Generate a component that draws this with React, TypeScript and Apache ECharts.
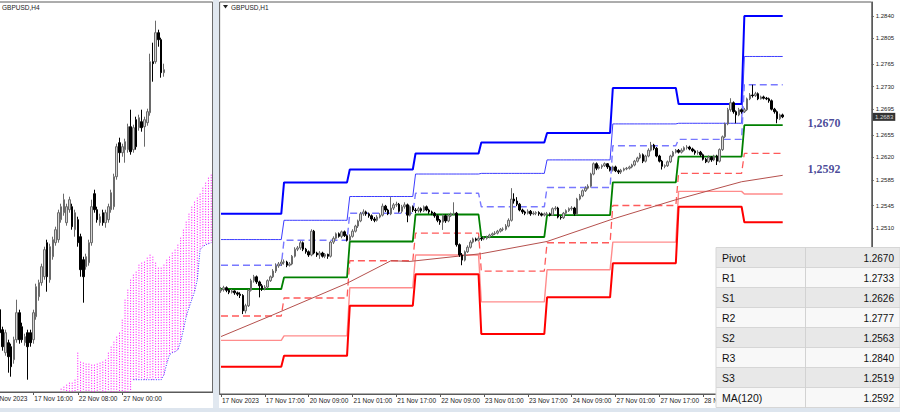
import React, { useEffect, useRef } from 'react';
import * as echarts from 'echarts';

const FONT = '"Liberation Sans", Arial, sans-serif';

// ================= LEFT PANEL: GBPUSD,H4 =================
const h4CategoryCount = 77;
const h4TickBars = [12, 28, 44];
const h4TickLabels = ['17 Nov 16:00', '22 Nov 08:00', '27 Nov 00:00'];
const h4CutLabel = '17 Nov 2023';
// [open, close, low, high] in pips above 1.2000
const h4Candles: number[][] = [
  [444, 421, 416, 454], [424, 407, 403, 427], [401, 421, 398, 424], [411, 397, 381, 414],
  [407, 387, 377, 410], [394, 414, 390, 417], [414, 441, 411, 454], [441, 414, 410, 444],
  [427, 414, 411, 431], [411, 417, 408, 420], [421, 407, 374, 424], [421, 411, 407, 424],
  [414, 441, 410, 444], [437, 467, 434, 470], [457, 471, 453, 474], [471, 487, 468, 490],
  [477, 504, 474, 507], [511, 477, 462, 514], [474, 507, 471, 510], [497, 514, 494, 517],
  [511, 524, 508, 527], [514, 541, 511, 544], [534, 547, 531, 550], [541, 554, 538, 560],
  [531, 547, 528, 550], [544, 554, 541, 557], [547, 527, 524, 550], [524, 541, 517, 544],
  [534, 511, 507, 537], [517, 484, 477, 520], [494, 477, 451, 497], [487, 497, 484, 500],
  [491, 511, 488, 514], [511, 547, 508, 554], [560, 544, 541, 564], [544, 534, 531, 547],
  [531, 537, 528, 540], [541, 531, 528, 544], [531, 541, 526, 544], [534, 547, 531, 550],
  [544, 561, 541, 564], [547, 577, 544, 580], [577, 607, 574, 610], [611, 601, 591, 616],
  [601, 607, 597, 610], [604, 612, 591, 615], [604, 627, 601, 630], [627, 602, 599, 644],
  [604, 626, 601, 629], [634, 607, 604, 637], [626, 636, 623, 639], [632, 626, 622, 644],
  [627, 634, 607, 637], [631, 642, 628, 645], [641, 692, 638, 700], [692, 690, 672, 711],
  [692, 721, 690, 733], [721, 714, 707, 724], [714, 681, 676, 716], [681, 684, 677, 690],
];
const kumoStartBar = 22;
const kumoUpper = [365, 367, 369, 371, 371, 374, 401, 392, 391, 390, 390, 389, 389, 390, 391, 392, 394, 401, 407, 412,
  417, 421, 434, 454, 464, 474, 479, 482, 489, 491, 492, 496, 499, 497, 491, 486, 486, 489, 494, 497,
  501, 504, 509, 516, 524, 532, 540, 547, 552, 556, 560, 566, 571, 576, 579];
const kumoLower = [362, 362, 362, 362, 362, 362, 362, 362, 362, 362, 362, 362, 362, 362, 362, 362, 362, 362, 362, 362,
  362, 362, 362, 362, 362, 362, 374, 374, 374, 374, 374, 374, 374, 374, 374, 374, 374, 379, 390, 399,
  401, 402, 404, 412, 424, 437, 446, 454, 462, 474, 504, 507, 509, 510, 511];
const kumoEdgeStartBar = 48;
const h4Min = 1.23617;
const h4Max = 1.27517;

// ================= RIGHT PANEL: GBPUSD,H1 =================
const h1CategoryCount = 238;
const h1DayStartBar = [0, 23, 47, 71, 95, 119, 143, 167, 191];
const h1TickBars = [0, 16, 32, 48, 64, 80, 96, 112, 128, 144, 160, 176];
const h1TickLabels = ['17 Nov 2023', '17 Nov 17:00', '20 Nov 09:00', '21 Nov 01:00', '21 Nov 17:00', '22 Nov 09:00',
  '23 Nov 01:00', '23 Nov 17:00', '24 Nov 09:00', '27 Nov 01:00', '27 Nov 17:00', '28 Nov 09:00'];
const priceTicks = [1.2510, 1.2545, 1.2585, 1.2620, 1.2655, 1.2695, 1.2730, 1.2765, 1.2805, 1.2840];
const lastPrice = 1.2683;
const h1Min = 1.225158;
const h1Max = 1.286179;

// daily pivot levels (one value per day)
const levelR3 = [1.2532, 1.2581, 1.2601, 1.2626, 1.2643, 1.2658, 1.2728, 1.2703, 1.2840];
const levelR2 = [1.2492, 1.2522, 1.2559, 1.2594, 1.2595, 1.2616, 1.2672, 1.2673, 1.2777];
const levelR1 = [1.2452, 1.2491, 1.2533, 1.2564, 1.2543, 1.2573, 1.2638, 1.2648, 1.2733];
const levelP = [1.2415, 1.2433, 1.2489, 1.2531, 1.2496, 1.2530, 1.2581, 1.2621, 1.2670];
const levelS1 = [1.2373, 1.2401, 1.2459, 1.2502, 1.2443, 1.2487, 1.2545, 1.2595, 1.2626];
const levelS2 = [1.2335, 1.2342, 1.2417, 1.2468, 1.2395, 1.2445, 1.2488, 1.2567, 1.2563];
const levelS3 = [1.2294, 1.2311, 1.2389, 1.2438, 1.2345, 1.2402, 1.2455, 1.2543, 1.2519];

// MA(120) read at bar positions
const ma120Points: number[][] = [[0, 1.2341], [18, 1.2373], [46, 1.2424], [62, 1.2459], [69, 1.2458], [95, 1.2470],
  [119, 1.2489], [143, 1.2524], [166, 1.2554], [190, 1.2582], [205, 1.2592]];

const noteBar = 214;
const noteValues = [1.2670, 1.2592];
const noteTexts = ['1,2670', '1,2592'];

// [open, close, low, high] in pips above 1.2000
const h1Candles: number[][] = [
  // 17 Nov
  [412, 414, 409, 418], [414, 417, 411, 420], [417, 413, 410, 419], [413, 410, 407, 415], [410, 412, 408, 415],
  [412, 409, 406, 413], [409, 407, 404, 411], [407, 405, 401, 410], [405, 381, 376, 407], [381, 389, 377, 392],
  [389, 413, 387, 415], [413, 428, 411, 431], [428, 434, 425, 437], [434, 426, 423, 436], [426, 420, 402, 428],
  [420, 415, 412, 423], [415, 418, 413, 421], [418, 428, 416, 430], [428, 434, 426, 436], [434, 443, 432, 446],
  [443, 451, 440, 455], [451, 454, 448, 457], [454, 457, 451, 461],
  // 20 Nov
  [457, 457, 453, 461], [457, 452, 449, 459], [452, 454, 450, 457], [454, 466, 452, 468], [466, 477, 464, 480],
  [477, 479, 474, 482], [479, 487, 476, 490], [487, 477, 474, 489], [477, 473, 470, 479], [473, 468, 465, 475],
  [468, 505, 466, 508], [505, 471, 469, 507], [471, 468, 465, 473], [468, 471, 462, 474], [471, 466, 464, 473],
  [466, 469, 463, 471], [469, 466, 462, 470], [466, 488, 464, 490], [488, 494, 485, 497], [494, 501, 492, 503],
  [501, 497, 495, 503], [497, 504, 494, 506], [504, 498, 496, 506], [498, 491, 489, 500],
  // 21 Nov
  [491, 497, 489, 500], [497, 505, 495, 508], [505, 513, 503, 515], [513, 521, 510, 523], [521, 532, 519, 535],
  [532, 535, 529, 539], [535, 532, 529, 537], [532, 529, 526, 534], [529, 524, 521, 531], [524, 522, 519, 527],
  [522, 527, 520, 530], [527, 530, 525, 533], [530, 544, 528, 548], [544, 538, 535, 546], [538, 532, 530, 540],
  [532, 541, 530, 558], [541, 546, 538, 549], [546, 547, 543, 551], [547, 536, 534, 549], [536, 543, 533, 546],
  [543, 546, 540, 550], [546, 530, 519, 548], [530, 543, 528, 545], [543, 538, 535, 545],
  // 22 Nov
  [538, 537, 533, 541], [537, 540, 534, 543], [540, 537, 534, 542], [537, 543, 535, 545], [543, 538, 536, 545],
  [538, 535, 532, 540], [535, 533, 530, 537], [533, 529, 526, 535], [529, 522, 519, 531], [522, 519, 515, 524],
  [519, 529, 507, 531], [529, 521, 518, 531], [521, 529, 519, 532], [529, 532, 527, 534], [532, 533, 530, 550],
  [533, 484, 481, 535], [484, 468, 465, 486], [468, 460, 452, 471], [460, 473, 458, 475], [473, 480, 471, 483],
  [480, 488, 478, 491], [488, 493, 486, 495], [493, 491, 489, 495], [491, 494, 489, 497],
  // 23 Nov
  [494, 493, 490, 496], [493, 494, 491, 497], [494, 496, 492, 498], [496, 499, 494, 501], [499, 501, 497, 503],
  [501, 502, 499, 505], [502, 505, 500, 507], [505, 508, 503, 510], [508, 508, 505, 511], [508, 513, 506, 516],
  [513, 522, 511, 525], [522, 555, 520, 572], [555, 552, 548, 564], [552, 547, 544, 558], [547, 538, 536, 549],
  [538, 535, 532, 540], [535, 533, 530, 537], [533, 536, 531, 539], [536, 532, 529, 538], [532, 533, 530, 536],
  [533, 534, 530, 536], [534, 532, 529, 536], [532, 530, 528, 534], [530, 532, 528, 534],
  // 24 Nov
  [532, 532, 529, 535], [532, 530, 528, 534], [530, 540, 529, 542], [540, 541, 537, 544], [541, 527, 525, 543],
  [527, 526, 523, 529], [526, 533, 524, 535], [533, 537, 531, 539], [537, 540, 535, 542], [540, 541, 537, 544],
  [541, 532, 529, 543], [532, 555, 530, 557], [555, 560, 553, 563], [560, 568, 558, 570], [568, 572, 566, 575],
  [572, 575, 570, 578], [575, 594, 573, 596], [594, 610, 592, 612], [610, 603, 600, 612], [603, 605, 601, 608],
  [605, 607, 602, 609], [607, 610, 605, 612], [610, 605, 602, 611], [605, 600, 598, 607],
  // 27 Nov
  [600, 605, 598, 607], [605, 599, 597, 607], [599, 597, 594, 601], [597, 600, 594, 602], [600, 602, 598, 604],
  [602, 603, 600, 605], [603, 605, 601, 607], [605, 608, 603, 610], [608, 614, 606, 616], [614, 619, 612, 621],
  [619, 624, 617, 627], [624, 614, 611, 626], [614, 622, 612, 624], [622, 631, 620, 634], [631, 639, 629, 644],
  [639, 634, 631, 641], [634, 622, 620, 636], [622, 614, 612, 624], [614, 606, 601, 616], [606, 607, 603, 609],
  [607, 613, 605, 615], [613, 622, 611, 624], [622, 628, 620, 630], [628, 631, 626, 633],
  // 28 Nov
  [631, 628, 626, 633], [628, 631, 626, 634], [631, 635, 629, 637], [635, 636, 632, 639], [636, 633, 631, 638],
  [633, 630, 628, 635], [630, 627, 624, 632], [627, 628, 624, 631], [628, 624, 621, 630], [624, 617, 615, 626],
  [617, 613, 611, 619], [613, 620, 611, 623], [620, 616, 613, 622], [616, 622, 614, 624], [622, 614, 608, 624],
  [614, 632, 612, 634], [632, 652, 630, 654], [652, 672, 650, 674], [672, 694, 670, 697], [694, 705, 691, 712],
  [705, 691, 688, 707], [691, 686, 673, 693], [686, 694, 684, 697], [694, 691, 688, 696],
  // 29 Nov
  [691, 694, 689, 697], [694, 711, 692, 713], [711, 717, 709, 720], [717, 716, 713, 733], [716, 719, 714, 722],
  [719, 711, 709, 721], [711, 714, 710, 716], [714, 712, 710, 716], [712, 711, 709, 714], [711, 708, 705, 713],
  [708, 695, 693, 710], [695, 691, 688, 697], [691, 680, 673, 693], [680, 686, 678, 688], [686, 683, 681, 688],
];

// ================= TABLE =================
const tableNames = ['Pivot', 'R1', 'S1', 'R2', 'S2', 'R3', 'S3', 'MA(120)'];
const tableValues = ['1.2670', '1.2733', '1.2626', '1.2777', '1.2563', '1.2840', '1.2519', '1.2592'];

const toPrice = (p: number) => Math.round((1.2 + p / 10000) * 100000) / 100000;

function timeAxis(gridIndex: number, count: number, tickBars: number[], tickLabels: string[]) {
  const cats = Array.from({ length: count }, (_, i) => String(i));
  const labelAt: Record<number, string> = {};
  tickBars.forEach((b, k) => { labelAt[b] = tickLabels[k]; });
  const isTick = (i: number) => labelAt[i] !== undefined;
  return {
    type: 'category',
    gridIndex,
    data: cats,
    boundaryGap: true,
    axisLine: { show: true, lineStyle: { color: '#5a5a5a', width: 1 } },
    axisTick: { show: true, alignWithLabel: true, interval: (i: number) => isTick(i), length: 3, lineStyle: { color: '#5a5a5a' } },
    axisLabel: {
      show: true,
      interval: (i: number) => isTick(i),
      formatter: (_v: string, i: number) => labelAt[i] ?? '',
      align: 'left',
      verticalAlign: 'top',
      margin: 3,
      padding: [0, 0, 0, 1],
      fontSize: 6.5,
      fontFamily: FONT,
      color: '#222',
    },
    splitLine: { show: false },
  };
}

function levelSeries(name: string, daily: number[], color: string, width: number, dashed: boolean) {
  const data = h1Candles.map((_, i) => {
    let d = 0;
    h1DayStartBar.forEach((s, k) => { if (i >= s) d = k; });
    return daily[d];
  });
  return {
    name,
    type: 'line',
    xAxisIndex: 1,
    yAxisIndex: 1,
    data,
    symbol: 'none',
    silent: true,
    z: 2,
    lineStyle: { color, width, type: dashed ? [7, 4] : 'solid' },
  };
}

function buildOption() {
  const children: any[] = [];
  // window chrome
  children.push({ type: 'rect', shape: { x: 213, y: 0, width: 6, height: 412 }, style: { fill: '#e1e8f0' }, z: 50 });
  children.push({ type: 'rect', shape: { x: 0, y: 408, width: 900, height: 4 }, style: { fill: '#dde5ee' }, z: 50 });
  // titles
  children.push({
    type: 'text', x: 2, y: 7, z: 60,
    style: { text: 'GBPUSD,H4', fontSize: 6.5, fontFamily: FONT, fill: '#222', align: 'left', verticalAlign: 'middle', textAlign: 'left', textVerticalAlign: 'middle' },
  });
  children.push({ type: 'polygon', shape: { points: [[223, 5], [228, 5], [225.5, 8.5]] }, style: { fill: '#222' }, z: 60 });
  children.push({
    type: 'text', x: 231, y: 7, z: 60,
    style: { text: 'GBPUSD,H1', fontSize: 6.5, fontFamily: FONT, fill: '#222', align: 'left', verticalAlign: 'middle', textAlign: 'left', textVerticalAlign: 'middle' },
  });
  // cut-off first label of the H4 axis
  children.push({
    type: 'text', x: -9.5, y: 395, z: 60,
    style: { text: h4CutLabel, fontSize: 6.5, fontFamily: FONT, fill: '#222', align: 'left', verticalAlign: 'top', textAlign: 'left', textVerticalAlign: 'top' },
  });
  // table
  const rowTop = 247.5, rowH = 20, tableX = 716, tableW = 184;
  tableNames.forEach((name, i) => {
    const y = rowTop + i * rowH;
    children.push({
      type: 'rect', z: 100,
      shape: { x: tableX, y, width: tableW, height: rowH },
      style: { fill: i % 2 === 0 ? '#e8e8e8' : '#f8f8f8', stroke: '#d6d6d6', lineWidth: 1 },
    });
    children.push({
      type: 'text', x: 722, y: y + rowH / 2 + 0.5, z: 101,
      style: { text: name, fontSize: 10.5, fontFamily: FONT, fill: '#111', align: 'left', verticalAlign: 'middle', textAlign: 'left', textVerticalAlign: 'middle' },
    });
    children.push({
      type: 'text', x: 894, y: y + rowH / 2 + 0.5, z: 101,
      style: { text: tableValues[i], fontSize: 10, fontFamily: FONT, fill: '#111', align: 'right', verticalAlign: 'middle', textAlign: 'right', textVerticalAlign: 'middle' },
    });
  });
  children.push({
    type: 'line', z: 101,
    shape: { x1: 805.5, y1: rowTop, x2: 805.5, y2: rowTop + rowH * tableNames.length },
    style: { stroke: '#d2d2d2', lineWidth: 1 },
  });

  const kumoData = kumoUpper.map((u, k) => [kumoStartBar + k, toPrice(u), toPrice(kumoLower[k])]);
  const kumoEdge = kumoLower
    .map((l, k) => [kumoStartBar + k, toPrice(l)])
    .filter((d) => d[0] >= kumoEdgeStartBar);

  const candleStyle = {
    color: '#d4d4d4',
    color0: '#000000',
    borderColor: '#6a6a6a',
    borderColor0: '#000000',
    borderWidth: 1,
  };

  return {
    animation: false,
    backgroundColor: '#ffffff',
    grid: [
      { left: -1.45, top: 2, width: 214.06, height: 390, show: true, borderColor: '#5a5a5a', borderWidth: 1, containLabel: false, outerBoundsMode: 'none' },
      { left: 219.63, top: 2, width: 652.12, height: 392, show: true, borderColor: '#5a5a5a', borderWidth: 1, containLabel: false, outerBoundsMode: 'none' },
    ],
    xAxis: [
      timeAxis(0, h4CategoryCount, h4TickBars, h4TickLabels),
      timeAxis(1, h1CategoryCount, h1TickBars, h1TickLabels),
    ],
    yAxis: [
      { type: 'value', gridIndex: 0, min: h4Min, max: h4Max, show: false, splitLine: { show: false } },
      {
        type: 'value', gridIndex: 1, position: 'right', min: h1Min, max: h1Max,
        axisLine: { show: true, lineStyle: { color: '#5a5a5a' } },
        axisTick: { show: true, length: 2, customValues: priceTicks, lineStyle: { color: '#5a5a5a' } },
        axisLabel: {
          show: true, customValues: priceTicks, formatter: (v: number) => v.toFixed(4),
          fontSize: 6, margin: 4, color: '#222', fontFamily: FONT,
        },
        splitLine: { show: false },
      },
    ],
    graphic: { elements: children },
    series: [
      {
        name: 'Kumo',
        type: 'custom',
        xAxisIndex: 0,
        yAxisIndex: 0,
        clip: true,
        silent: true,
        z: 1,
        encode: { x: 0, y: [1, 2] },
        data: kumoData,
        renderItem: (_params: any, api: any) => {
          const x = api.value(0);
          const p1 = api.coord([x, api.value(1)]);
          const p2 = api.coord([x, api.value(2)]);
          return {
            type: 'line',
            shape: { x1: p1[0], y1: p1[1], x2: p2[0], y2: p2[1] },
            style: { stroke: '#ff00ff', lineWidth: 1, lineDash: [1, 1.6] },
          };
        },
      },
      {
        name: 'Kumo edge',
        type: 'line',
        xAxisIndex: 0,
        yAxisIndex: 0,
        data: kumoEdge,
        symbol: 'none',
        silent: true,
        z: 2,
        lineStyle: { color: '#3a3aff', width: 1, type: [1, 1.5] },
      },
      {
        name: 'GBPUSD,H4',
        type: 'candlestick',
        xAxisIndex: 0,
        yAxisIndex: 0,
        barWidth: 2,
        z: 5,
        data: h4Candles.map((c) => c.map(toPrice)),
        itemStyle: candleStyle,
      },
      levelSeries('R3', levelR3, '#0000ff', 2, false),
      levelSeries('R2', levelR2, '#3c3cff', 1, false),
      levelSeries('R1', levelR1, '#7878ff', 1.4, true),
      levelSeries('Pivot', levelP, '#008000', 1.8, false),
      levelSeries('S1', levelS1, '#ff5a5a', 1.3, true),
      levelSeries('S2', levelS2, '#ff8c8c', 1.4, false),
      levelSeries('S3', levelS3, '#ff0000', 2, false),
      {
        name: 'MA(120)',
        type: 'line',
        xAxisIndex: 1,
        yAxisIndex: 1,
        data: ma120Points,
        symbol: 'none',
        silent: true,
        z: 3,
        lineStyle: { color: '#b5504d', width: 1 },
      },
      {
        name: 'GBPUSD,H1',
        type: 'candlestick',
        xAxisIndex: 1,
        yAxisIndex: 1,
        barWidth: 2,
        z: 5,
        data: h1Candles.map((c) => c.map(toPrice)),
        itemStyle: candleStyle,
      },
      {
        name: 'last price',
        type: 'scatter',
        xAxisIndex: 1,
        yAxisIndex: 1,
        symbolSize: 0.1,
        silent: true,
        clip: false,
        z: 7,
        itemStyle: { color: 'rgba(0,0,0,0)' },
        data: [[h1CategoryCount - 1, lastPrice]],
        label: {
          show: true,
          position: 'right',
          distance: 2.5,
          formatter: lastPrice.toFixed(4),
          color: '#ffffff',
          backgroundColor: '#000000',
          padding: [1, 2, 1, 2],
          fontSize: 6,
          fontFamily: FONT,
        },
      },
      {
        name: 'notes',
        type: 'scatter',
        xAxisIndex: 1,
        yAxisIndex: 1,
        symbolSize: 0.1,
        silent: true,
        z: 6,
        itemStyle: { color: 'rgba(0,0,0,0)' },
        data: noteValues.map((v, k) => ({ value: [noteBar, v], label: { offset: [0, k === 0 ? -2 : -6] } })),
        label: {
          show: true,
          position: 'right',
          distance: 0,
          formatter: (p: any) => noteTexts[p.dataIndex],
          fontFamily: '"Liberation Serif", "Times New Roman", serif',
          fontWeight: 'bold',
          fontSize: 12,
          color: '#1a1a80',
        },
      },
    ],
  };
}

export default function App() {
  const ref = useRef<HTMLDivElement>(null);
  useEffect(() => {
    if (!ref.current) return;
    const chart = echarts.init(ref.current, null, { renderer: 'svg', width: 900, height: 412 });
    chart.setOption(buildOption() as any);
    return () => chart.dispose();
  }, []);
  return (
    <div
      ref={ref}
      style={{ position: 'fixed', left: 0, top: 0, width: 900, height: 412, background: '#ffffff' }}
    />
  );
}
